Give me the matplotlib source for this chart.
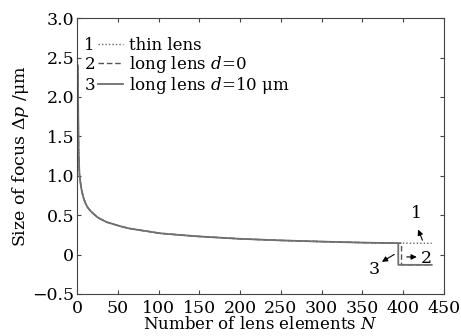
import matplotlib
matplotlib.use("Agg")
import matplotlib.pyplot as plt

# values
n_common = [1, 2, 3, 4, 5, 6, 8, 10, 13, 16, 20, 25, 30, 37, 45, 53, 65, 77, 90,
            102, 125, 150, 175, 200, 250, 300, 350, 394]
size_common = [2.4, 1.3, 1.02, 0.93, 0.86, 0.80, 0.72, 0.66, 0.60, 0.56, 0.52,
               0.475, 0.445, 0.41, 0.385, 0.36, 0.33, 0.31, 0.29, 0.27, 0.25,
               0.23, 0.215, 0.20, 0.18, 0.165, 0.152, 0.145]

n_thin_tail = [435]
size_thin_tail = [0.143]

n_d0_tail = [398, 398, 435]
size_d0_tail = [0.144, -0.13, -0.13]

n_d10_tail = [394, 435]
size_d10_tail = [-0.13, -0.13]

labels = ["thin lens", "long lens $d$=0", "long lens $d$=10 μm"]
x_ticks = [0, 50, 100, 150, 200, 250, 300, 350, 400, 450]
y_ticks = [-0.5, 0, 0.5, 1.0, 1.5, 2.0, 2.5, 3.0]
y_tick_labels = ["\u22120.5", "0", "0.5", "1.0", "1.5", "2.0", "2.5", "3.0"]

plt.rcParams["font.family"] = "DejaVu Serif"
plt.rcParams["mathtext.fontset"] = "dejavuserif"

fig = plt.figure(figsize=(4.61, 3.36), dpi=100)
ax = fig.add_axes([0.167, 0.125, 0.796, 0.821])

# build each series from shared part + its tail
n_thin = n_common + n_thin_tail
s_thin = size_common + size_thin_tail
n_d0 = n_common + n_d0_tail
s_d0 = size_common + size_d0_tail
n_d10 = n_common + n_d10_tail
s_d10 = size_common + size_d10_tail

l1, = ax.plot(n_thin, s_thin, color="#666666", lw=1.0, ls=(0, (1, 1.5)))
l2, = ax.plot(n_d0, s_d0, color="#555555", lw=1.0, ls=(0, (4, 2)))
l3, = ax.plot(n_d10, s_d10, color="#707070", lw=1.3, ls="-")

ax.set_xlim(0, 450)
ax.set_ylim(-0.5, 3.0)
ax.set_xticks(x_ticks)
ax.set_yticks(y_ticks)
ax.set_yticklabels(y_tick_labels)
ax.tick_params(direction="in", top=True, right=True, length=3, labelsize=12.5,
               color="#444444")
ax.tick_params(axis="x", pad=4.5)
ax.tick_params(axis="y", pad=2)
for sp in ax.spines.values():
    sp.set_color("#444444")

ax.set_xlabel("Number of lens elements $N$", fontsize=12, labelpad=-1)
ax.set_ylabel("Size of focus $\\Delta p$ /μm", fontsize=12.5, labelpad=1)

# legend with curve numbers on the left
leg = ax.legend([l1, l2, l3], labels, loc="upper left", frameon=False,
                fontsize=12, handlelength=1.5, handletextpad=0.35,
                labelspacing=0.0, borderaxespad=0.0,
                bbox_to_anchor=(0.04, 0.955))
fig.canvas.draw()
inv = ax.transAxes.inverted()
for i, t in enumerate(leg.get_texts()):
    bb = t.get_window_extent()
    yc = inv.transform((0, (bb.y0 + bb.y1) / 2))[1]
    ax.text(0.02, yc, str(i + 1), transform=ax.transAxes, fontsize=12,
            ha="left", va="center")

# curve markers
arrow = dict(arrowstyle="-|>", color="black", lw=0.8, mutation_scale=8)
ax.annotate("", xy=(417, 0.35), xytext=(425, 0.15), arrowprops=arrow)
ax.text(416, 0.52, "1", fontsize=12.5, ha="center", va="center")
ax.annotate("", xy=(420, -0.03), xytext=(401, -0.03), arrowprops=arrow)
ax.text(428, -0.05, "2", fontsize=12.5, ha="center", va="center")
ax.annotate("", xy=(371, -0.11), xytext=(392, 0.02), arrowprops=arrow)
ax.text(364, -0.19, "3", fontsize=12.5, ha="center", va="center")

fig.savefig("out.png", dpi=100)
